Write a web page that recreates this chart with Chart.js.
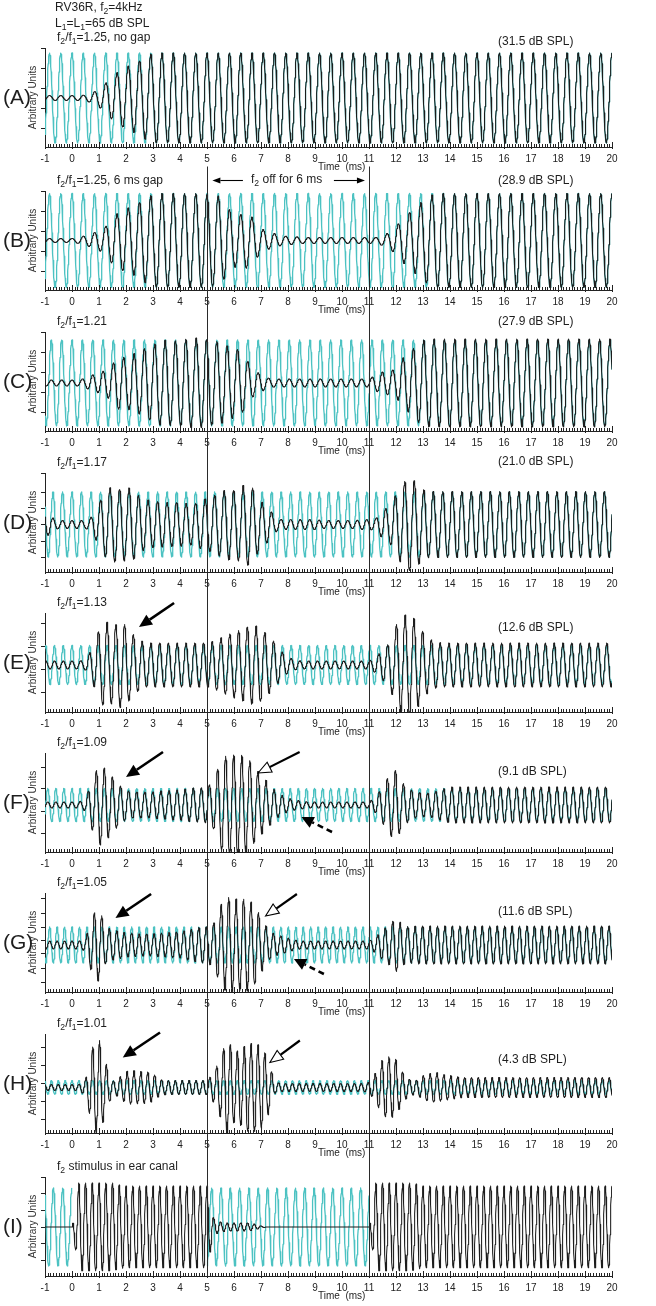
<!DOCTYPE html>
<html><head><meta charset="utf-8">
<script src="https://cdn.jsdelivr.net/npm/chart.js@4.4.1/dist/chart.umd.min.js"></script>
<style>
html,body{margin:0;padding:0;background:#fff;}
#fig{position:relative;width:656px;height:1306px;overflow:hidden;font-family:"Liberation Sans",Arial,Helvetica,sans-serif;color:#1e1e1e;}
canvas{position:absolute;left:0;}
.t{position:absolute;white-space:pre;line-height:1;z-index:5;}
.t sub{font-size:0.72em;vertical-align:-0.3em;line-height:0;}
</style></head>
<body><div id="fig"></div>
<script>
// ---------------- DATA ----------------
const TIME_TICKS = [-1,0,1,2,3,4,5,6,7,8,9,10,11,12,13,14,15,16,17,18,19,20];
const TIME_TICK_LABELS = ['-1','0','1','2','3','4','5','6','7','8','9','10','11','12','13','14','15','16','17','18','19','20'];
const GAP_EDGES_MS = [5, 11];

const panelIds = ['A','B','C','D','E','F','G','H','I'];
const panelTitles = [
  'f<sub>2</sub>/f<sub>1</sub>=1.25, no gap',
  'f<sub>2</sub>/f<sub>1</sub>=1.25, 6 ms gap',
  'f<sub>2</sub>/f<sub>1</sub>=1.21',
  'f<sub>2</sub>/f<sub>1</sub>=1.17',
  'f<sub>2</sub>/f<sub>1</sub>=1.13',
  'f<sub>2</sub>/f<sub>1</sub>=1.09',
  'f<sub>2</sub>/f<sub>1</sub>=1.05',
  'f<sub>2</sub>/f<sub>1</sub>=1.01',
  'f<sub>2</sub> stimulus in ear canal'
];
const dpLevels = ['(31.5 dB SPL)','(28.9 dB SPL)','(27.9 dB SPL)','(21.0 dB SPL)','(12.6 dB SPL)','(9.1 dB SPL)','(11.6 dB SPL)','(4.3 dB SPL)',''];

// frequencies (kHz) of the cyan reference and black recorded waveforms
const cyanFreqKHz  = [2.40, 2.40, 2.61, 2.84, 3.08, 3.34, 3.62, 3.92, 2.90];
const blackFreqKHz = [2.40, 2.40, 2.61, 2.84, 3.08, 3.34, 3.62, 3.92, 4.00];
// cyan reference amplitude (arbitrary units)
const cyanAmp = [45, 47, 43, 32.5, 19.5, 16.5, 18, 6.8, 39];
// time spans (ms) where the cyan reference is drawn
const cyanSpansFull = [[-1, 20]];
const cyanSpansI = [[-1, 0], [5, 11]];

// black-trace envelope, sampled every 0.25 ms from -1 to 20 ms (85 values)
const envA = [
 2.5,2.5,2.5,2.5, 2.5,2.5,3,5,
 9,15,22,27, 31,34,37,42,
 45,45,45,45, 45,45,45,45,
 45,45,45,45, 45,45,45,45,
 45,45,45,45, 45,45,45,45,
 45,45,45,45, 45,45,45,45,
 45,45,45,45, 45,45,45,45,
 45,45,45,45, 45,45,45,45,
 45,45,45,45, 45,45,45,45,
 45,45,45,45, 45,45,45,45,
 45,45,45,45, 45];
const envB = [
 2,2,2,2, 2,3,5,7,
 10,14,24,28, 32,34,38,43,
 46,47,47,47, 47,47,47,47,
 46,46,44,33, 27,26,28,21,
 12,9,7,5, 4,4,3,3,
 3,3,3,3, 3,3,3,3,
 3,3,5,8, 14,22,28,34,
 40,45,47,47, 47,47,47,47,
 47,47,47,47, 47,47,47,47,
 47,47,47,47, 47,47,47,47,
 47,47,47,47, 47];
const envC = [
 3,3,3,3, 3,3,5,8,
 10,13,19,27, 25,29,31,36,
 38,42,43,42, 43,44,45,45,
 43,42,41,37, 35,32,22,12,
 9,5,4,4, 4,4,4,4,
 4,4,4,4, 4,4,4,4,
 4,8,11,12, 14,25,30,38,
 43,44,44,44, 44,44,44,44,
 44,44,44,44, 44,44,44,44,
 44,44,44,44, 44,44,44,44,
 44,44,44,44, 44];
const envD = [
 14,7,4,4, 4,4,4,8,
 22,33,39,35, 37,36,28,25,
 23,23,22,22, 22,21,20,24,
 26,29,32,36, 34,38,41,35,
 23,18,8,5, 5,5,5,5,
 5,4,4,4, 4,4,4,5,
 5,6,14,18, 30,42,46,43,
 35,33,33,33, 33,33,33,33,
 33,33,33,33, 33,33,33,33,
 33,33,33,33, 33,33,33,33,
 33,33,33,33, 33];
const envE = [
 4,4,4,4, 4,4,5,17,
 35,44,38,43, 40,31,25,22,
 22,22,22,22, 22,22,22,22,
 22,24,27,30, 33,35,38,40,
 36,30,23,14, 8,5,4,4,
 4,4,4,4, 4,4,4,4,
 4,8,15,22, 40,50,50,45,
 33,26,23,22, 22,22,22,22,
 22,22,22,22, 22,22,22,22,
 22,22,22,22, 22,22,22,22,
 22,22,22,22, 22];
const envF = [
 3,3,3,3, 3,3,6,25,
 41,36,28,20, 15,13,13,13,
 13,14,14,15, 15,16,17,17,
 18,24,45,50, 50,50,48,38,
 30,23,15,10, 7,5,4,3,
 3,3,3,3, 3,3,3,3,
 3,8,18,30, 35,22,16,13,
 12,12,14,16, 18,18,18,18,
 18,18,18,18, 18,18,18,18,
 18,18,18,18, 18,18,18,18,
 18,18,18,18, 18];
const envG = [
 4,4,4,4, 4,4,6,30,
 37,18,15,14, 12,12,11,11,
 11,12,12,13, 13,15,16,18,
 18,22,40,48, 46,46,46,40,
 28,16,11,9, 7,5,4,4,
 4,4,4,4, 4,4,4,4,
 4,8,15,20, 27,20,18,19,
 19,19,19,19, 19,19,19,19,
 19,19,19,19, 19,19,19,19,
 19,19,19,19, 19,19,19,19,
 19,19,19,19, 19];
const envH = [
 3,3,3,3, 3,3,8,40,
 49,25,6,10, 16,17,16,16,
 14,8,7,7, 7,7,7,7,
 7,15,30,50, 35,38,44,44,
 42,29,6,4, 4,4,4,4,
 4,4,4,4, 4,4,4,4,
 5,15,28,31, 28,15,8,7,
 12,14,15,13, 12,11,10,10,
 10,10,10,10, 10,10,10,10,
 10,10,10,10, 10,10,10,10,
 10,10,10,10, 10];
const envI = [
 0,0,0,0, 0,44,44,44,
 44,44,44,42, 41,41,41,41,
 41,41,41,41, 41,41,41,41,
 41,8,5,4, 4,4,4,3,
 1,0,0,0, 0,0,0,0,
 0,0,0,0, 0,0,0,0,
 0,44,44,44, 44,44,44,43,
 41,41,41,41, 41,41,41,41,
 41,41,41,41, 41,41,41,41,
 41,41,41,41, 41,41,41,41,
 41,41,41,41, 41];

// y tick values per panel (arbitrary units)
const yTicksA = [50,30,10,-10,-30];
const yTicksB = [49.5,29.5,9.5,-10.5,-30.5];
const yTicksC = [51,31,11,-9,-29];
const yTicksD = [51.5,32.5,16.5,0,-16.5,-33];
const yTicksE = [42,19,-4,-27];
const yTicksF = [38,17,-6,-28];
const yTicksG = [47,32,18,5,-8,-23,-37];
const yTicksH = [40,22,4,-14,-32];
const yTicksI = [49,34,17,0,-16,-33];

// y ranges per panel
const yMinVals = [-49,-49.5,-48,-47.5,-47,-47,-47,-45.5,-49];
const yMaxVals = [ 50, 49.5, 51, 51.5, 52, 52, 52, 53.5, 50];

// arrows (time ms, arbitrary units)
const arrowsB = [
  {from:[6.33,60], to:[5.2,60], kind:'thin'},
  {from:[9.7,60], to:[10.85,60], kind:'thin'}
];
const arrowsE = [{from:[3.78,62], to:[2.48,38], kind:'solid'}];
const arrowsF = [
  {from:[3.37,53], to:[2.0,28], kind:'solid'},
  {from:[8.43,53], to:[6.89,32], kind:'open'},
  {from:[9.63,-27], to:[8.5,-12], kind:'dashed'}
];
const arrowsG = [
  {from:[2.93,51], to:[1.61,27], kind:'solid'},
  {from:[8.33,51], to:[7.17,29], kind:'open'},
  {from:[9.33,-29], to:[8.22,-14], kind:'dashed'}
];
const arrowsH = [
  {from:[3.26,55], to:[1.88,30], kind:'solid'},
  {from:[8.44,47], to:[7.33,25], kind:'open'}
];

// ---------------- LAYOUT / STYLE ----------------
const FONT = '"Liberation Sans", Arial, Helvetica, sans-serif';
Chart.defaults.font.family = FONT;
const CYAN = '#4cc2c2';
const BLACK = '#1c1c1c';
const AXIS = '#222';
const W = 656, PAD_TOP = 40, PLOT_H = 99, XAXIS_H = 30, Y_AXIS_W = 45, PAD_RIGHT = 44;
const axisBottoms = [147,290,431,572,712,852,992,1133,1276];
const dbLabelY = [42,181,322,462,628,772,912,1060,0];
const ENV_T0 = -1, ENV_STEP = 0.25;
const ARROW_STYLES = {
  solid:{width:2.6, head:13, half:6},
  open:{width:2.2, head:13, half:5.5, open:true},
  dashed:{width:2.6, head:12, half:6, dash:[6,4]},
  thin:{width:1.1, head:8, half:3}
};

const envs = [envA,envB,envC,envD,envE,envF,envG,envH,envI];
const yTicks = [yTicksA,yTicksB,yTicksC,yTicksD,yTicksE,yTicksF,yTicksG,yTicksH,yTicksI];
const arrows = [[],arrowsB,[],[],arrowsE,arrowsF,arrowsG,arrowsH,[]];
const cyanSpans = [cyanSpansFull,cyanSpansFull,cyanSpansFull,cyanSpansFull,cyanSpansFull,cyanSpansFull,cyanSpansFull,cyanSpansFull,cyanSpansI];

// ---------------- BUILD ----------------
function envAt(env, t){
  const p = (t - ENV_T0) / ENV_STEP;
  const i = Math.floor(p + 1e-9);
  if (i < 0) return env[0];
  if (i >= env.length - 1) return env[env.length - 1];
  const f = Math.max(0, p - i);
  return env[i] + (env[i+1] - env[i]) * f;
}
function tone(t, f){ return Math.cos(2*Math.PI*f*t); }
function blackTrace(env, f){
  const pts = [];
  for (let k = 0; k <= 2100; k++){
    const t = Math.round((-1 + k*0.01)*1000)/1000;
    pts.push({x:t, y: envAt(env, t) * tone(t, f)});
  }
  return pts;
}
function cyanSegment(amp, f, a, b){
  const pts = [];
  const n = Math.round((b-a)/0.01);
  for (let k = 0; k <= n; k++){
    const t = Math.round((a + k*0.01)*1000)/1000;
    pts.push({x:t, y: amp * tone(t, f)});
  }
  return pts;
}

function drawArrow(ctx, x1, y1, x2, y2, st){
  const ang = Math.atan2(y2-y1, x2-x1);
  const bx = x2 - st.head*Math.cos(ang), by = y2 - st.head*Math.sin(ang);
  ctx.save();
  ctx.strokeStyle = '#000'; ctx.lineWidth = st.width; ctx.lineCap = 'butt';
  ctx.setLineDash(st.dash || []);
  ctx.beginPath(); ctx.moveTo(x1,y1); ctx.lineTo(bx,by); ctx.stroke();
  ctx.setLineDash([]);
  ctx.beginPath(); ctx.moveTo(x2,y2);
  ctx.lineTo(bx + st.half*Math.sin(ang), by - st.half*Math.cos(ang));
  ctx.lineTo(bx - st.half*Math.sin(ang), by + st.half*Math.cos(ang));
  ctx.closePath();
  if (st.open){ ctx.fillStyle = '#fff'; ctx.fill(); ctx.lineWidth = 1.1; ctx.stroke(); }
  else { ctx.fillStyle = '#000'; ctx.fill(); }
  ctx.restore();
}

const xTicksPlugin = {
  id:'xTicksInside',
  afterDraw(chart){
    const xs = chart.scales.x, y0 = chart.chartArea.bottom, ctx = chart.ctx;
    ctx.save(); ctx.strokeStyle = AXIS; ctx.lineWidth = 1;
    for (let k = 0; k <= 210; k++){
      const v = -1 + k*0.1;
      const x = Math.round(xs.getPixelForValue(v)) + 0.5;
      const major = (k % 10 === 0);
      ctx.beginPath();
      ctx.moveTo(x, y0 + (major ? 2 : 0));
      ctx.lineTo(x, y0 - (major ? 5 : 3));
      ctx.stroke();
    }
    ctx.restore();
  }
};
const arrowPlugin = {
  id:'arrowNotes',
  afterDraw(chart, args, opts){
    const list = opts.list || [];
    const xs = chart.scales.x, ys = chart.scales.y;
    list.forEach(a => {
      drawArrow(chart.ctx,
        xs.getPixelForValue(a.from[0]), ys.getPixelForValue(a.from[1]),
        xs.getPixelForValue(a.to[0]), ys.getPixelForValue(a.to[1]),
        ARROW_STYLES[a.kind]);
    });
  }
};

const fig = document.getElementById('fig');
function addText(html, left, cy, size, extra){
  const d = document.createElement('div');
  d.className = 't';
  d.innerHTML = html;
  d.style.left = left + 'px';
  d.style.top = (cy - size*0.55) + 'px';
  d.style.fontSize = size + 'px';
  if (extra) Object.assign(d.style, extra);
  fig.appendChild(d);
  return d;
}

const charts = [], canvasTops = [];
panelIds.forEach((id, p) => {
  const bottom = axisBottoms[p];
  const top = bottom - PLOT_H - PAD_TOP;
  canvasTops.push(top);
  const cv = document.createElement('canvas');
  cv.width = W; cv.height = PAD_TOP + PLOT_H + XAXIS_H;
  cv.style.top = top + 'px';
  fig.appendChild(cv);
  const datasets = cyanSpans[p].map(([a,b]) => ({
    data: cyanSegment(cyanAmp[p], cyanFreqKHz[p], a, b), borderColor: CYAN, borderWidth: 1.3,
    pointRadius: 0, tension: 0, order: 2, borderJoinStyle:'round'
  }));
  datasets.push({data: blackTrace(envs[p], blackFreqKHz[p]), borderColor: BLACK, borderWidth: 1.05,
       pointRadius: 0, tension: 0, order: 1, borderJoinStyle:'round'});
  const ch = new Chart(cv, {
    type:'line',
    data:{datasets},
    options:{
      responsive:false, animation:false, devicePixelRatio:1, parsing:false, normalized:true,
      events:[],
      layout:{padding:{top:PAD_TOP, left:0, right:PAD_RIGHT, bottom:0}},
      plugins:{legend:{display:false}, tooltip:{enabled:false}, title:{display:false},
               arrowNotes:{list: arrows[p]}},
      scales:{
        x:{type:'linear', min:-1, max:20,
           afterFit: s => { s.height = XAXIS_H; },
           afterBuildTicks: s => { s.ticks = TIME_TICKS.map(v => ({value:v})); },
           ticks:{autoSkip:false, maxRotation:0, minRotation:0, padding:6, color:'#222',
                  font:{family:FONT, size:10},
                  callback: v => TIME_TICK_LABELS[TIME_TICKS.indexOf(v)]},
           grid:{display:false, drawTicks:false},
           border:{display:true, color:AXIS, width:1}},
        y:{type:'linear', min:yMinVals[p], max:yMaxVals[p],
           afterFit: s => { s.width = Y_AXIS_W; },
           afterBuildTicks: s => { s.ticks = yTicks[p].map(v => ({value:v})); },
           ticks:{display:false},
           grid:{display:true, drawOnChartArea:false, drawTicks:true, tickLength:4, color:AXIS, lineWidth:1},
           border:{display:true, color:AXIS, width:1},
           title:{display:true, text:'Arbitrary Units', color:'#333', font:{family:FONT, size:10},
                  padding:{top:27, bottom:0}}}
      }
    },
    plugins:[xTicksPlugin, arrowPlugin]
  });
  charts.push(ch);

  // texts
  const plotTop = bottom - PLOT_H;
  addText('(' + id + ')', 3, plotTop + PLOT_H/2, 21);
  addText(panelTitles[p], 57, plotTop - 10, 12);
  if (dpLevels[p]) addText(dpLevels[p], 498, dbLabelY[p], 12);
  addText('Time  (ms)', 318, bottom + 20, 10);
});

// header
addText('RV36R, f<sub>2</sub>=4kHz', 55, 8, 12);
addText('L<sub>1</sub>=L<sub>1</sub>=65 dB SPL', 55, 24, 12);
// gap annotation (panel B)
addText('f<sub>2</sub> off for 6 ms', 251, 180, 12);

// vertical lines at gap edges spanning panels B..I
const ov = document.createElement('canvas');
ov.width = W; ov.height = 1306; ov.style.top = '0px'; ov.style.zIndex = 4;
fig.appendChild(ov);
const octx = ov.getContext('2d');
const chB = charts[1], chI = charts[8];
const yTop = canvasTops[1] + chB.scales.y.getPixelForValue(74);
const yBot = canvasTops[8] + chI.chartArea.bottom;
octx.strokeStyle = '#2a2a2a'; octx.lineWidth = 1;
GAP_EDGES_MS.forEach(t => {
  const x = Math.round(chB.scales.x.getPixelForValue(t)) + 0.5;
  octx.beginPath(); octx.moveTo(x, yTop); octx.lineTo(x, yBot); octx.stroke();
});
</script>
</body></html>
